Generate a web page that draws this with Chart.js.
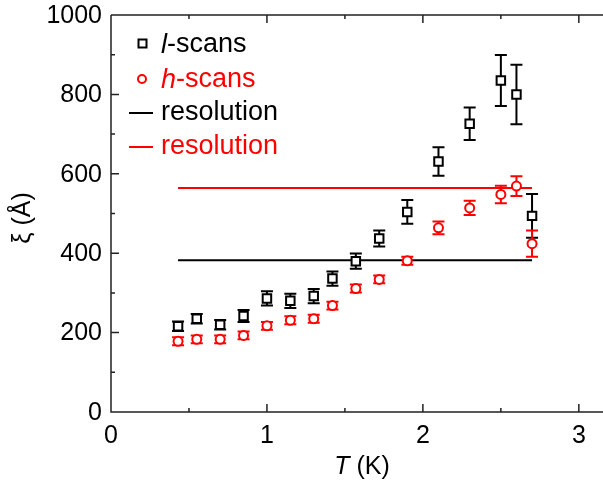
<!DOCTYPE html>
<html>
<head>
<meta charset="utf-8">
<script src="https://cdn.jsdelivr.net/npm/chart.js@4.4.0/dist/chart.umd.min.js"></script>
<style>
  html, body { margin: 0; padding: 0; background: #fff; overflow: hidden; }
  #wrap { width: 603px; height: 489px; position: relative; }
  canvas { display: block; }
</style>
</head>
<body>
<div id="wrap"><canvas id="myChart"></canvas></div>
<script>
// temperatures (K)
const temps = [0.43, 0.55, 0.70, 0.85, 1.00, 1.15, 1.30, 1.42, 1.57, 1.72, 1.90, 2.10, 2.30, 2.50, 2.60, 2.70];
// correlation length from l-scans and h-scans (Angstrom)
const lScans = [216, 235, 220, 242, 286, 280, 292, 336, 380, 437, 504, 631, 726, 835, 800, 494];
const lErr = [12, 12, 12, 15, 18, 18, 18, 18, 19, 20, 30, 36, 41, 64, 75, 55];
const hScans = [178, 183, 183, 193, 217, 231, 235, 268, 311, 334, 381, 464, 514, 548, 569, 424];
const hErr = [10, 10, 10, 10, 10, 10, 10, 10, 10, 10, 10, 16, 18, 22, 25, 33];
// resolution limits
const resRange = [0.43, 2.70];
const lRes = 382;
const hRes = 564;

const xTicks = [0, 1, 2, 3];
const xMinor = [0.5, 1.5, 2.5];
const yTicks = [0, 200, 400, 600, 800, 1000];
const yMinor = [100, 300, 500, 700, 900];

const FONT = "'Liberation Sans', Arial, sans-serif";

function toPoints(xs, ys) {
  return xs.map((x, i) => ({ x: x, y: ys[i] }));
}

function drawRich(ctx, parts, x, y, size, color) {
  ctx.fillStyle = color;
  ctx.textBaseline = "middle";
  ctx.textAlign = "left";
  parts.forEach(p => {
    ctx.font = (p.italic ? "italic " : "") + size + "px " + FONT;
    ctx.fillText(p.t, x, y);
    x += ctx.measureText(p.t).width;
  });
}

const errorBars = {
  id: "errorBars",
  beforeDatasetsDraw(chart) {
    const ctx = chart.ctx;
    const xs = chart.scales.x, ys = chart.scales.y;
    const sets = [[lScans, lErr, "#000"], [hScans, hErr, "#ff0000"]];
    ctx.save();
    ctx.lineWidth = 2;
    sets.forEach(([vals, errs, col]) => {
      ctx.strokeStyle = col;
      vals.forEach((v, i) => {
        const px = xs.getPixelForValue(temps[i]);
        const top = ys.getPixelForValue(v + errs[i]);
        const bot = ys.getPixelForValue(v - errs[i]);
        ctx.beginPath();
        ctx.moveTo(px, top); ctx.lineTo(px, bot);
        ctx.moveTo(px - 6, top); ctx.lineTo(px + 6, top);
        ctx.moveTo(px - 6, bot); ctx.lineTo(px + 6, bot);
        ctx.stroke();
      });
    });
    ctx.restore();
  },
  afterDraw(chart) {
    const ctx = chart.ctx;
    const a = chart.chartArea;
    const xs = chart.scales.x, ys = chart.scales.y;
    ctx.save();
    // frame
    ctx.strokeStyle = "#222";
    ctx.lineWidth = 1.5;
    ctx.beginPath();
    ctx.moveTo(a.left, a.top); ctx.lineTo(a.right, a.top);
    ctx.moveTo(a.left, a.top); ctx.lineTo(a.left, a.bottom);
    ctx.lineTo(a.right, a.bottom);
    // x ticks (bottom and top, inward)
    xTicks.forEach(v => {
      const p = xs.getPixelForValue(v);
      ctx.moveTo(p, a.bottom); ctx.lineTo(p, a.bottom - 8);
      ctx.moveTo(p, a.top); ctx.lineTo(p, a.top + 8);
    });
    xMinor.forEach(v => {
      const p = xs.getPixelForValue(v);
      ctx.moveTo(p, a.bottom); ctx.lineTo(p, a.bottom - 4);
      ctx.moveTo(p, a.top); ctx.lineTo(p, a.top + 4);
    });
    yTicks.forEach(v => {
      const p = ys.getPixelForValue(v);
      ctx.moveTo(a.left, p); ctx.lineTo(a.left + 8, p);
    });
    yMinor.forEach(v => {
      const p = ys.getPixelForValue(v);
      ctx.moveTo(a.left, p); ctx.lineTo(a.left + 4, p);
    });
    ctx.stroke();

    // tick labels
    ctx.fillStyle = "#000";
    ctx.font = "25px " + FONT;
    ctx.textBaseline = "middle";
    ctx.textAlign = "center";
    xTicks.forEach(v => ctx.fillText(String(v), xs.getPixelForValue(v), 436));
    ctx.textAlign = "right";
    yTicks.forEach(v => ctx.fillText(String(v), 102, ys.getPixelForValue(v) + 1));

    // axis titles
    const tW = (() => { ctx.font = "italic 25px " + FONT; const w1 = ctx.measureText("T").width;
      ctx.font = "25px " + FONT; return w1 + ctx.measureText(" (K)").width; })();
    drawRich(ctx, [{ t: "T", italic: true }, { t: " (K)" }], 362 - tW / 2, 467, 25, "#000");
    ctx.save();
    ctx.translate(23, 218);
    ctx.rotate(-Math.PI / 2);
    ctx.font = "25px " + FONT;
    ctx.textAlign = "center";
    ctx.textBaseline = "middle";
    ctx.fillText("\u03BE (\u00C5)", 0, 0);
    ctx.restore();

    // legend
    ctx.lineWidth = 2;
    ctx.strokeStyle = "#000";
    ctx.fillStyle = "#fff";
    ctx.beginPath(); ctx.rect(138.5, 39.5, 8, 8); ctx.fill(); ctx.stroke();
    ctx.strokeStyle = "#ff0000";
    ctx.beginPath(); ctx.arc(142, 79, 4, 0, Math.PI * 2); ctx.stroke();
    ctx.strokeStyle = "#000";
    ctx.beginPath(); ctx.moveTo(129, 113); ctx.lineTo(153, 113); ctx.stroke();
    ctx.strokeStyle = "#ff0000";
    ctx.beginPath(); ctx.moveTo(129, 147); ctx.lineTo(153, 147); ctx.stroke();
    drawRich(ctx, [{ t: "l", italic: true }, { t: "-scans" }], 161, 45, 27, "#000");
    drawRich(ctx, [{ t: "h", italic: true }, { t: "-scans" }], 161, 80, 27, "#ff0000");
    drawRich(ctx, [{ t: "resolution" }], 161, 113, 27, "#000");
    drawRich(ctx, [{ t: "resolution" }], 161, 147, 27, "#ff0000");
    ctx.restore();
  }
};

const ctx = document.getElementById("myChart").getContext("2d");
window.chart = new Chart(ctx, {
  type: "scatter",
  data: {
    datasets: [
      {
        label: "l-scans",
        data: toPoints(temps, lScans),
        pointStyle: "rect",
        pointRadius: 6,
        borderColor: "#000",
        backgroundColor: "#fff",
        borderWidth: 2,
      },
      {
        label: "h-scans",
        data: toPoints(temps, hScans),
        pointStyle: "circle",
        pointRadius: 4.5,
        borderColor: "#ff0000",
        backgroundColor: "#fff",
        borderWidth: 2,
      },
      {
        type: "line",
        label: "resolution",
        data: toPoints(resRange, [lRes, lRes]),
        borderColor: "#000",
        borderWidth: 2,
        pointRadius: 0,
      },
      {
        type: "line",
        label: "resolution",
        data: toPoints(resRange, [hRes, hRes]),
        borderColor: "#ff0000",
        borderWidth: 2,
        pointRadius: 0,
      },
    ],
  },
  options: {
    responsive: true,
    maintainAspectRatio: false,
    animation: false,
    devicePixelRatio: 1,
    layout: { autoPadding: false, padding: { left: 111, top: 15, right: 0, bottom: 77 } },
    scales: {
      x: { type: "linear", min: 0, max: 3.155, display: false },
      y: { type: "linear", min: 0, max: 1000, display: false },
    },
    plugins: {
      legend: { display: false },
      tooltip: { enabled: false },
    },
  },
  plugins: [errorBars],
});
</script>
</body>
</html>
